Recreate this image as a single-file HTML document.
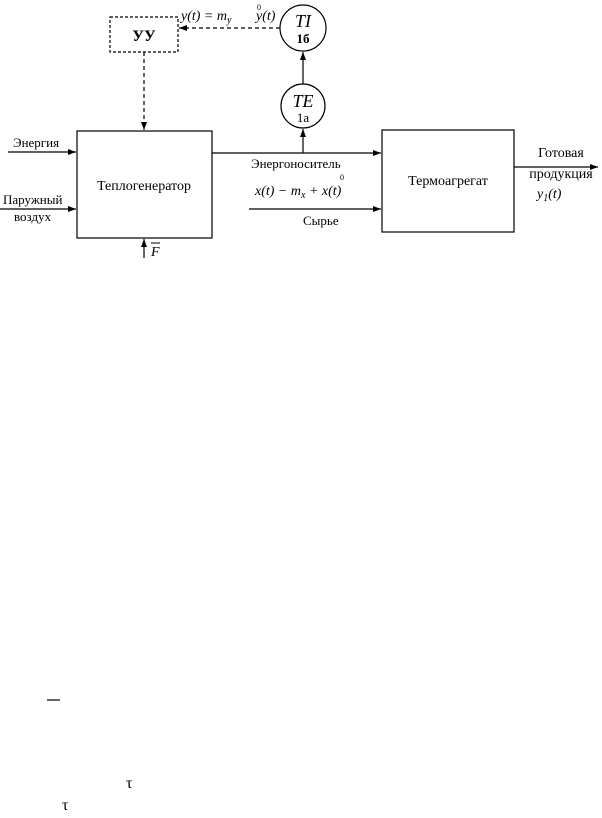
<!DOCTYPE html>
<html><head><meta charset="utf-8"><style>
html,body{margin:0;padding:0;background:#fff;width:602px;height:818px;overflow:hidden}
svg{display:block}
text{font-family:"Liberation Serif",serif;fill:#000}
</style></head><body>
<svg width="602" height="818" viewBox="0 0 602 818" xmlns="http://www.w3.org/2000/svg">
<defs><marker id="a" markerWidth="8" markerHeight="6" refX="8" refY="3" orient="auto" markerUnits="userSpaceOnUse"><path d="M0,0 L8,3 L0,6 z" fill="#000"/></marker></defs>
<g stroke="#000" stroke-width="1.2" fill="none">
<rect x="110" y="17" width="68" height="35" stroke-dasharray="3,2"/>
<circle cx="303" cy="28" r="23"/>
<circle cx="303" cy="106" r="22"/>
<rect x="77" y="131" width="135" height="107"/>
<rect x="382" y="130" width="132" height="102"/>
<line x1="280" y1="28" x2="179" y2="28" stroke-dasharray="4,3" marker-end="url(#a)"/>
<line x1="144" y1="52" x2="144" y2="130" stroke-dasharray="4,3" marker-end="url(#a)"/>
<line x1="303" y1="84" x2="303" y2="52" marker-end="url(#a)"/>
<line x1="303" y1="153" x2="303" y2="129" marker-end="url(#a)"/>
<line x1="212" y1="153" x2="381" y2="153" marker-end="url(#a)"/>
<line x1="249" y1="209" x2="381" y2="209" marker-end="url(#a)"/>
<line x1="514" y1="167" x2="598" y2="167" marker-end="url(#a)"/>
<line x1="8" y1="152" x2="76" y2="152" marker-end="url(#a)"/>
<line x1="0" y1="209" x2="76" y2="209" marker-end="url(#a)"/>
<line x1="144" y1="258" x2="144" y2="239" marker-end="url(#a)"/>
<line x1="47" y1="700" x2="60" y2="700"/>
</g>
<text x="144" y="41" font-size="16" font-weight="bold" text-anchor="middle">УУ</text>
<text x="303" y="27" font-size="18" font-style="italic" text-anchor="middle">TI</text>
<text x="303" y="43" font-size="13" font-weight="bold" text-anchor="middle">1б</text>
<text x="303" y="107" font-size="18" font-style="italic" text-anchor="middle">TE</text>
<text x="303" y="122" font-size="13" text-anchor="middle">1a</text>
<text x="181" y="20" font-size="14" font-style="italic">y(t) = m<tspan font-size="10" dy="3">y</tspan></text>
<text x="256" y="20" font-size="14" font-style="italic">y(t)</text>
<text x="257" y="10" font-size="8">0</text>
<text x="144" y="190" font-size="14" text-anchor="middle">Теплогенератор</text>
<text x="448" y="185" font-size="14" text-anchor="middle">Термоагрегат</text>
<text x="13" y="147" font-size="13">Энергия</text>
<text x="3" y="204" font-size="13">Паружный</text>
<text x="14" y="221" font-size="13">воздух</text>
<text x="151" y="256" font-size="14" font-style="italic">F</text>
<line x1="151" y1="243" x2="160" y2="243" stroke="#000" stroke-width="1"/>
<text x="251" y="168" font-size="13">Энергоноситель</text>
<text x="255" y="195" font-size="14" font-style="italic">x(t) − m<tspan font-size="10" dy="3">x</tspan><tspan dy="-3"> + x(t)</tspan></text>
<text x="340" y="180" font-size="8">0</text>
<text x="303" y="225" font-size="13">Сырье</text>
<text x="561" y="157" font-size="14" text-anchor="middle">Готовая</text>
<text x="561" y="178" font-size="14" text-anchor="middle">продукция</text>
<text x="537" y="198" font-size="14" font-style="italic">y<tspan font-size="10" dy="3">1</tspan><tspan dy="-3">(t)</tspan></text>
<text x="126" y="788" font-size="16">τ</text>
<text x="62" y="810" font-size="16">τ</text>
</svg>
</body></html>
